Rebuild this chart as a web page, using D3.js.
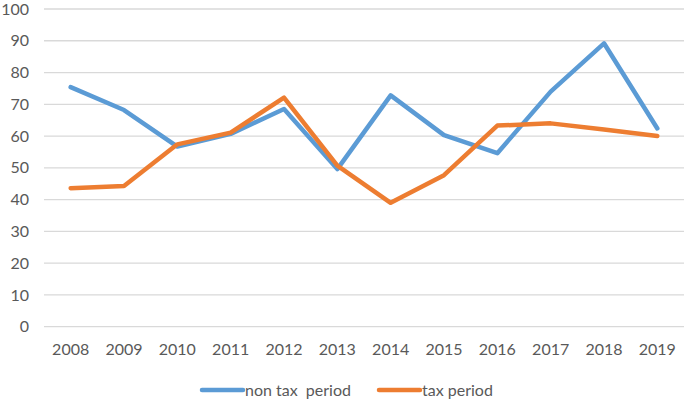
<!DOCTYPE html>
<html>
<head>
<meta charset="utf-8">
<script src="https://cdn.jsdelivr.net/npm/d3@7"></script>
<style>
  body { margin: 0; background: #fff; }
  text { font-family: Lato, "Open Sans", sans-serif; fill: #595959; }
</style>
</head>
<body>
<svg id="chart" width="685" height="401"></svg>
<script>
var years = ['2008', '2009', '2010', '2011', '2012', '2013', '2014', '2015', '2016', '2017', '2018', '2019'];
var nonTax = [75.4, 68.2, 56.7, 60.7, 68.5, 49.6, 72.8, 60.3, 54.6, 74.0, 89.2, 62.4];
var tax = [43.6, 44.3, 57.4, 61.1, 72.1, 50.7, 39.0, 47.7, 63.3, 64.0, 62.1, 60.0];
var yTicks = [0, 10, 20, 30, 40, 50, 60, 70, 80, 90, 100];

var svg = d3.select('#chart');

var x = d3.scaleBand().domain(years).range([44, 684]);
var y = d3.scaleLinear().domain([0, 100]).range([326.7, 9]);

// gridlines
svg.append('g')
  .selectAll('line')
  .data(yTicks)
  .join('line')
  .attr('x1', 44).attr('x2', 684)
  .attr('y1', function(d) { return y(d); })
  .attr('y2', function(d) { return y(d); })
  .attr('stroke', '#d9d9d9')
  .attr('stroke-width', 1.3);

// y axis labels
var yAxis = svg.append('g')
  .attr('transform', 'translate(29,0)')
  .call(d3.axisLeft(y).tickValues(yTicks).tickSize(0).tickPadding(0));
yAxis.select('.domain').remove();
yAxis.selectAll('text')
  .attr('font-size', 16)
  .attr('fill', '#595959')
  .style('font-family', 'Lato, "Open Sans", sans-serif');

// x axis labels
var xAxis = svg.append('g')
  .attr('transform', 'translate(0,344)')
  .call(d3.axisBottom(x).tickSize(0).tickPadding(0));
xAxis.select('.domain').remove();
xAxis.selectAll('text')
  .attr('font-size', 16)
  .attr('fill', '#595959')
  .style('font-family', 'Lato, "Open Sans", sans-serif');

var line = d3.line()
  .x(function(d, i) { return x(years[i]) + x.bandwidth() / 2; })
  .y(function(d) { return y(d); });

var series = [
  { name: 'non tax  period', values: nonTax, color: '#5b9bd5' },
  { name: 'tax period', values: tax, color: '#ed7d31' }
];

series.forEach(function(s) {
  svg.append('path')
    .datum(s.values)
    .attr('d', line)
    .attr('fill', 'none')
    .attr('stroke', s.color)
    .attr('stroke-width', 4.5)
    .attr('stroke-linejoin', 'round')
    .attr('stroke-linecap', 'round');
});

// legend
var legendX = [202, 379];
series.forEach(function(s, i) {
  var g = svg.append('g').attr('transform', 'translate(' + legendX[i] + ',390)');
  g.append('line')
    .attr('x1', 0).attr('x2', 41)
    .attr('stroke', s.color)
    .attr('stroke-width', 4.5)
    .attr('stroke-linecap', 'round');
  g.append('text')
    .attr('x', 43)
    .attr('dy', '0.35em')
    .attr('font-size', 16)
    .style('white-space', 'pre')
    .text(s.name);
});
</script>
</body>
</html>
